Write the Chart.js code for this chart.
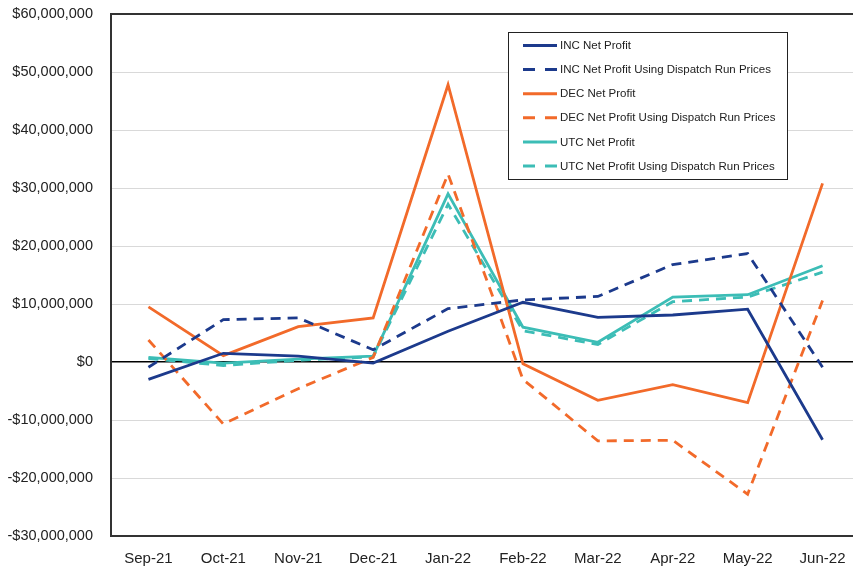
<!DOCTYPE html>
<html>
<head>
<meta charset="utf-8">
<script src="https://cdn.jsdelivr.net/npm/chart.js@4"></script>
<style>
  html, body { margin: 0; padding: 0; background: #fff; overflow: hidden; }
  .chart-wrap { width: 860px; height: 569px; position: relative; }
</style>
</head>
<body>
<div class="chart-wrap"><canvas id="profit-chart"></canvas></div>
<script>
const months = ['Sep-21', 'Oct-21', 'Nov-21', 'Dec-21', 'Jan-22', 'Feb-22', 'Mar-22', 'Apr-22', 'May-22', 'Jun-22'];

// Monthly net profit, dollars
const incNet = [-3.0e6, 1.5e6, 1.0e6, -0.2e6, 5.3e6, 10.3e6, 7.7e6, 8.1e6, 9.1e6, -13.4e6];
const incDispatch = [-0.9e6, 7.3e6, 7.6e6, 2.1e6, 9.2e6, 10.7e6, 11.3e6, 16.8e6, 18.7e6, -0.9e6];
const decNet = [9.5e6, 1.1e6, 6.1e6, 7.6e6, 47.8e6, -0.3e6, -6.6e6, -3.9e6, -7.0e6, 30.8e6];
const decDispatch = [3.8e6, -10.7e6, -4.6e6, 0.8e6, 32.4e6, -3.0e6, -13.6e6, -13.5e6, -22.8e6, 10.6e6];
const utcNet = [0.8e6, -0.2e6, 0.5e6, 1.0e6, 29.0e6, 6.0e6, 3.4e6, 11.2e6, 11.6e6, 16.6e6];
const utcDispatch = [0.6e6, -0.6e6, 0.3e6, 0.9e6, 27.2e6, 5.4e6, 3.0e6, 10.4e6, 11.2e6, 15.5e6];

const NAVY = '#1c3a8c';
const ORANGE = '#f26a2a';
const TEAL = '#3cbdb6';
const DASH = [10, 7];

const FONT = 'Liberation Sans, Arial, sans-serif';

const series = (label, data, color, dashed) => ({
  label,
  data,
  borderColor: color,
  backgroundColor: color,
  borderWidth: 2.8,
  borderDash: dashed ? DASH : [],
  pointRadius: 0,
  tension: 0,
  fill: false,
});

// Boxed legend drawn inside the plot area
const boxLegend = {
  id: 'boxLegend',
  afterDraw(chart) {
    const { ctx } = chart;
    const x = 508, y = 32, w = 279, h = 147;
    const rowGap = 24.1;

    ctx.save();
    ctx.fillStyle = '#fff';
    ctx.fillRect(x, y, w, h);
    ctx.strokeStyle = '#222';
    ctx.lineWidth = 1;
    ctx.strokeRect(x + 0.5, y + 0.5, w, h);

    ctx.font = `11.5px ${FONT}`;
    ctx.textBaseline = 'middle';
    chart.data.datasets.forEach((ds, i) => {
      const rowY = 45.5 + i * rowGap;
      ctx.strokeStyle = ds.borderColor;
      ctx.lineWidth = 3;
      ctx.setLineDash(ds.borderDash.length ? [12, 10] : []);
      ctx.beginPath();
      ctx.moveTo(523, rowY);
      ctx.lineTo(557, rowY);
      ctx.stroke();
      ctx.setLineDash([]);
      ctx.fillStyle = '#222';
      ctx.fillText(ds.label, 560, rowY + 0.5);
    });
    ctx.restore();
  },
};

const formatDollars = (v) => {
  const s = Math.abs(v).toLocaleString('en-US');
  return `${v < 0 ? '-' : ''}$${s}`;
};

new Chart(document.getElementById('profit-chart'), {
  type: 'line',
  data: {
    labels: months,
    datasets: [
      series('INC Net Profit', incNet, NAVY, false),
      series('INC Net Profit Using Dispatch Run Prices', incDispatch, NAVY, true),
      series('DEC Net Profit', decNet, ORANGE, false),
      series('DEC Net Profit Using Dispatch Run Prices', decDispatch, ORANGE, true),
      series('UTC Net Profit', utcNet, TEAL, false),
      series('UTC Net Profit Using Dispatch Run Prices', utcDispatch, TEAL, true),
    ],
  },
  options: {
    responsive: true,
    maintainAspectRatio: false,
    animation: false,
    layout: { padding: { top: 14, right: 0, bottom: 0, left: 0 } },
    plugins: {
      legend: { display: false },
      tooltip: { enabled: false },
    },
    scales: {
      x: {
        offset: true,
        afterFit: (scale) => {
          scale.height = 33;
          scale.paddingLeft = 0;
          scale.paddingRight = 0;
        },
        grid: { display: false },
        border: { display: true, color: '#333', width: 2 },
        ticks: { color: '#222', font: { family: FONT, size: 15 }, padding: 6, maxRotation: 0 },
      },
      y: {
        min: -30000000,
        max: 60000000,
        afterFit: (scale) => {
          scale.width = 111;
          scale.paddingTop = 0;
          scale.paddingBottom = 0;
        },
        border: { display: true, color: '#333', width: 2 },
        grid: {
          drawTicks: false,
          lineWidth: (c) => (c.tick && c.tick.value === 0 ? 1.5 : c.tick && (c.tick.value === 60000000) ? 2 : 1),
          color: (c) => {
            if (!c.tick) return '#d9d9d9';
            if (c.tick.value === 0) return '#000';
            if (c.tick.value === 60000000) return '#333';
            return '#d9d9d9';
          },
        },
        ticks: {
          stepSize: 10000000,
          padding: 18,
          color: '#222',
          font: { family: FONT, size: 14.5 },
          callback: (v) => formatDollars(v),
        },
      },
    },
  },
  plugins: [boxLegend],
});
</script>
</body>
</html>
